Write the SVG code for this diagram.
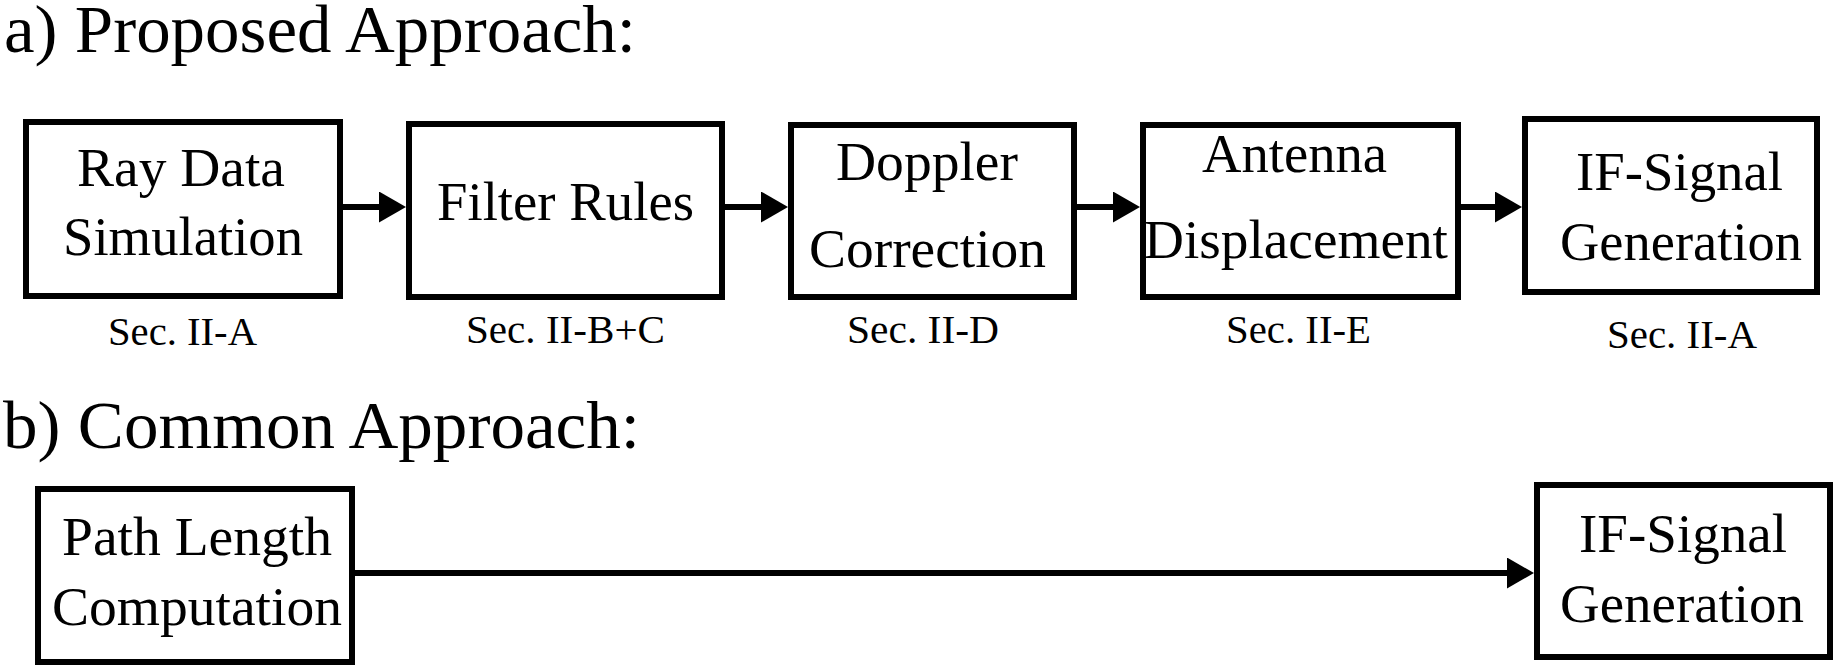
<svg xmlns="http://www.w3.org/2000/svg" width="1834" height="667" viewBox="0 0 1834 667">
<style>
.box{fill:#fff;stroke:#000;stroke-width:6}
.t{font-family:"Liberation Serif","Times New Roman",serif;fill:#000}
.lbl{font-size:55px}
.sec{font-size:40px}
.ttl{font-size:68px}
.conn{stroke:#000;stroke-width:6;fill:none}
</style>
<defs>
<marker id="ah" markerUnits="userSpaceOnUse" markerWidth="28" markerHeight="32" refX="7" refY="15.5" orient="auto">
<path d="M0,0 L27,15.5 L0,31 Z" fill="#000"/>
</marker>
</defs>
<rect width="1834" height="667" fill="#fff"/>
<g id="titles" class="t ttl">
<text x="4" y="52" textLength="632" lengthAdjust="spacingAndGlyphs">a) Proposed Approach:</text>
<text x="3" y="448" textLength="637" lengthAdjust="spacingAndGlyphs">b) Common Approach:</text>
</g>
<g id="connectors">
<line class="conn" x1="343" y1="207" x2="386" y2="207" marker-end="url(#ah)"/>
<line class="conn" x1="725" y1="207" x2="768" y2="207" marker-end="url(#ah)"/>
<line class="conn" x1="1077" y1="207" x2="1120" y2="207" marker-end="url(#ah)"/>
<line class="conn" x1="1461" y1="207" x2="1502" y2="207" marker-end="url(#ah)"/>
<line class="conn" x1="355" y1="573" x2="1514" y2="573" marker-end="url(#ah)"/>
</g>
<g id="ray-data-simulation">
<rect class="box" x="26" y="122" width="314" height="174"/>
<g class="t lbl">
<text x="77" y="186" textLength="208" lengthAdjust="spacingAndGlyphs">Ray Data</text>
<text x="63" y="255" textLength="240" lengthAdjust="spacingAndGlyphs">Simulation</text>
</g>
<text class="t sec" x="108" y="345" textLength="149" lengthAdjust="spacingAndGlyphs">Sec. II-A</text>
</g>
<g id="filter-rules">
<rect class="box" x="409" y="124" width="313" height="173"/>
<text class="t lbl" x="437" y="220" textLength="257" lengthAdjust="spacingAndGlyphs">Filter Rules</text>
<text class="t sec" x="466" y="343" textLength="199" lengthAdjust="spacingAndGlyphs">Sec. II-B+C</text>
</g>
<g id="doppler-correction">
<rect class="box" x="791" y="125" width="283" height="172"/>
<g class="t lbl">
<text x="836" y="180" textLength="182" lengthAdjust="spacingAndGlyphs">Doppler</text>
<text x="809" y="267" textLength="237" lengthAdjust="spacingAndGlyphs">Correction</text>
</g>
<text class="t sec" x="847" y="343" textLength="152" lengthAdjust="spacingAndGlyphs">Sec. II-D</text>
</g>
<g id="antenna-displacement">
<rect class="box" x="1143" y="125" width="315" height="172"/>
<g class="t lbl">
<text x="1202" y="172" textLength="185" lengthAdjust="spacingAndGlyphs">Antenna</text>
<text x="1144" y="258" textLength="304" lengthAdjust="spacingAndGlyphs">Displacement</text>
</g>
<text class="t sec" x="1226" y="343" textLength="145" lengthAdjust="spacingAndGlyphs">Sec. II-E</text>
</g>
<g id="if-signal-generation-a">
<rect class="box" x="1525" y="119" width="292" height="173"/>
<g class="t lbl">
<text x="1576" y="190" textLength="207" lengthAdjust="spacingAndGlyphs">IF-Signal</text>
<text x="1560" y="260" textLength="242" lengthAdjust="spacingAndGlyphs">Generation</text>
</g>
<text class="t sec" x="1607" y="348" textLength="150" lengthAdjust="spacingAndGlyphs">Sec. II-A</text>
</g>
<g id="path-length-computation">
<rect class="box" x="38" y="489" width="314" height="173"/>
<g class="t lbl">
<text x="62" y="555" textLength="270" lengthAdjust="spacingAndGlyphs">Path Length</text>
<text x="52" y="625" textLength="290" lengthAdjust="spacingAndGlyphs">Computation</text>
</g>
</g>
<g id="if-signal-generation-b">
<rect class="box" x="1537" y="485" width="293" height="172"/>
<g class="t lbl">
<text x="1579" y="552" textLength="208" lengthAdjust="spacingAndGlyphs">IF-Signal</text>
<text x="1560" y="622" textLength="244" lengthAdjust="spacingAndGlyphs">Generation</text>
</g>
</g>
</svg>
